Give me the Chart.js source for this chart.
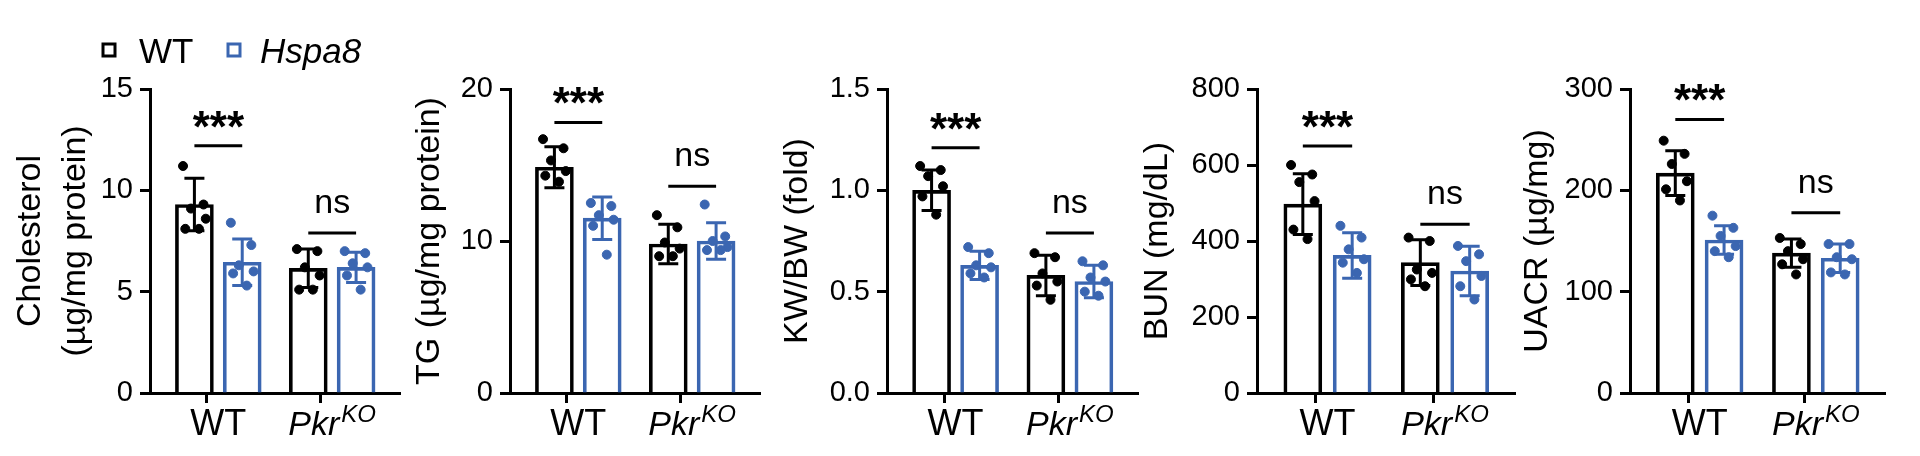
<!DOCTYPE html>
<html>
<head>
<meta charset="utf-8">
<script src="https://cdn.jsdelivr.net/npm/chart.js@4"></script>
<style>
  html, body { margin: 0; padding: 0; background: #fff; }
  #wrap { position: relative; width: 1920px; height: 456px; }
  #wrap canvas { position: absolute; top: 0; }
</style>
</head>
<body>
<div id="wrap"></div>
<script>
/* ===================== DATA ===================== */

const GROUPS = ["WT", "Pkr"];

// Cholesterol
const CHOL_WT_MEAN = [9.3, 6.15];
const CHOL_WT_SD = [1.3, 0.95];
const CHOL_HS_MEAN = [6.45, 6.2];
const CHOL_HS_SD = [1.15, 0.75];
const CHOL_WT_PTS = [[11.2, 9.3, 9.1, 8.6, 8.1, 8.1], [7.1, 7.0, 6.2, 5.8, 5.1, 5.1]];
const CHOL_HS_PTS = [[8.4, 7.3, 6.3, 6.0, 5.9, 5.3], [7.0, 6.9, 6.4, 6.2, 5.8, 5.1]];
const CHOL_TICKS = [0, 5, 10, 15];
const CHOL_SIG = [12.2, 7.9];

// TG
const TG_WT_MEAN = [14.85, 9.8];
const TG_WT_SD = [1.35, 1.3];
const TG_HS_MEAN = [11.5, 10.0];
const TG_HS_SD = [1.4, 1.2];
const TG_WT_PTS = [[16.7, 16.1, 15.3, 14.6, 14.3, 13.9], [11.7, 10.9, 9.9, 9.5, 9.0, 9.0]];
const TG_HS_PTS = [[12.5, 12.3, 11.7, 11.4, 11.0, 9.1], [12.4, 10.3, 10.0, 9.6, 9.4, 9.4]];
const TG_TICKS = [0, 10, 20];
const TG_SIG = [17.8, 13.6];

// KW/BW
const KW_WT_MEAN = [1.0, 0.58];
const KW_WT_SD = [0.1, 0.1];
const KW_HS_MEAN = [0.63, 0.55];
const KW_HS_SD = [0.07, 0.08];
const KW_WT_PTS = [[1.12, 1.1, 1.07, 1.02, 0.97, 0.88], [0.69, 0.67, 0.59, 0.55, 0.53, 0.46]];
const KW_HS_PTS = [[0.72, 0.69, 0.63, 0.62, 0.59, 0.57], [0.65, 0.63, 0.57, 0.55, 0.5, 0.48]];
const KW_TICKS = [0, 0.5, 1.0, 1.5];
const KW_SIG = [1.21, 0.79];

// BUN
const BUN_WT_MEAN = [497, 343];
const BUN_WT_SD = [80, 60];
const BUN_HS_MEAN = [362, 321];
const BUN_HS_SD = [60, 65];
const BUN_WT_PTS = [[600, 575, 555, 505, 430, 405], [409, 400, 325, 316, 299, 281]];
const BUN_HS_PTS = [[440, 409, 378, 352, 343, 316], [387, 365, 347, 308, 281, 246]];
const BUN_TICKS = [0, 200, 400, 600, 800];
const BUN_SIG = [650, 444];

// UACR
const UACR_WT_MEAN = [217, 138];
const UACR_WT_SD = [22, 14];
const UACR_HS_MEAN = [151, 133];
const UACR_HS_SD = [14, 14];
const UACR_WT_PTS = [[249, 236, 226, 209, 201, 190], [153, 147, 140, 132, 127, 117]];
const UACR_HS_PTS = [[175, 163, 155, 145, 140, 134], [147, 147, 134, 132, 119, 117]];
const UACR_TICKS = [0, 100, 200, 300];
const UACR_SIG = [270, 178];

/* ===================== LAYOUT / STYLE ===================== */

const BLACK = "#000000";
const BLUE = "#3b66b1";
const FONT = "'Liberation Sans', Arial, sans-serif";
const JITTER = [-0.1, 0.08, -0.03, 0.1, -0.08, 0.04]; // horizontal spread of dots (x units)
const BAR_OFF = 0.21;

const PANELS = [
  { left: 0, axisX: 150, right: 406, title: ["Cholesterol", "(µg/mg protein)"], pad: 9, ticks: CHOL_TICKS, dec: 0,
    wt: CHOL_WT_MEAN, wtSd: CHOL_WT_SD, hs: CHOL_HS_MEAN, hsSd: CHOL_HS_SD, wtPts: CHOL_WT_PTS, hsPts: CHOL_HS_PTS, sig: CHOL_SIG, legend: true },
  { left: 400, axisX: 510, right: 766, title: "TG (µg/mg protein)", pad: 8, ticks: TG_TICKS, dec: 0,
    wt: TG_WT_MEAN, wtSd: TG_WT_SD, hs: TG_HS_MEAN, hsSd: TG_HS_SD, wtPts: TG_WT_PTS, hsPts: TG_HS_PTS, sig: TG_SIG },
  { left: 760, axisX: 887, right: 1144, title: "KW/BW (fold)", pad: 16, ticks: KW_TICKS, dec: 1,
    wt: KW_WT_MEAN, wtSd: KW_WT_SD, hs: KW_HS_MEAN, hsSd: KW_HS_SD, wtPts: KW_WT_PTS, hsPts: KW_HS_PTS, sig: KW_SIG },
  { left: 1130, axisX: 1257, right: 1521, title: "BUN (mg/dL)", pad: 6, ticks: BUN_TICKS, dec: 0,
    wt: BUN_WT_MEAN, wtSd: BUN_WT_SD, hs: BUN_HS_MEAN, hsSd: BUN_HS_SD, wtPts: BUN_WT_PTS, hsPts: BUN_HS_PTS, sig: BUN_SIG },
  { left: 1510, axisX: 1630, right: 1891, title: "UACR (µg/mg)", pad: 6, ticks: UACR_TICKS, dec: 0,
    wt: UACR_WT_MEAN, wtSd: UACR_WT_SD, hs: UACR_HS_MEAN, hsSd: UACR_HS_SD, wtPts: UACR_WT_PTS, hsPts: UACR_HS_PTS, sig: UACR_SIG },
];

/* ===================== PLUGINS ===================== */

const errorBarPlugin = {
  id: "errorBars",
  afterDatasetDraw(chart, args) {
    const ds = chart.data.datasets[args.index];
    if (!ds.sd) return;
    const { ctx } = chart;
    const y = chart.scales.y;
    ctx.save();
    ctx.strokeStyle = ds.borderColor;
    ctx.lineWidth = 3;
    ds.data.forEach((d, i) => {
      const px = chart.scales.x.getPixelForValue(d.x);
      const top = y.getPixelForValue(d.y + ds.sd[i]);
      const bot = y.getPixelForValue(d.y - ds.sd[i]);
      ctx.beginPath();
      ctx.moveTo(px, top); ctx.lineTo(px, bot);
      ctx.moveTo(px - 10, top); ctx.lineTo(px + 10, top);
      ctx.moveTo(px - 10, bot); ctx.lineTo(px + 10, bot);
      ctx.stroke();
    });
    ctx.restore();
  },
};

const annotPlugin = {
  id: "annot",
  afterDraw(chart) {
    const opts = chart.options.plugins.annot;
    const { ctx } = chart;
    const x = chart.scales.x, y = chart.scales.y;
    ctx.save();
    ctx.fillStyle = BLACK;
    ctx.strokeStyle = BLACK;
    ctx.lineWidth = 3;
    ctx.textAlign = "center";
    ctx.textBaseline = "alphabetic";
    // significance
    opts.sig.forEach((v, g) => {
      const py = y.getPixelForValue(v);
      ctx.beginPath();
      ctx.moveTo(x.getPixelForValue(g - BAR_OFF), py);
      ctx.lineTo(x.getPixelForValue(g + BAR_OFF), py);
      ctx.stroke();
      const cx = x.getPixelForValue(g);
      if (g === 0) {
        ctx.font = "bold 44px " + FONT;
        ctx.fillText("***", cx, py - 4);
      } else {
        ctx.font = "34px " + FONT;
        ctx.fillText("ns", cx, py - 20);
      }
    });
    // category labels
    const base = chart.chartArea.bottom + 42;
    ctx.font = "36px " + FONT;
    ctx.fillText("WT", x.getPixelForValue(0), base);
    const c1 = x.getPixelForValue(1);
    ctx.font = "italic 34px " + FONT;
    const w1 = ctx.measureText("Pkr").width;
    ctx.font = "italic 24px " + FONT;
    const w2 = ctx.measureText("KO").width;
    const start = c1 - (w1 + w2 + 2) / 2;
    ctx.textAlign = "left";
    ctx.font = "italic 34px " + FONT;
    ctx.fillText("Pkr", start, base);
    ctx.font = "italic 24px " + FONT;
    ctx.fillText("KO", start + w1 + 2, base - 13);
    // legend
    if (opts.legend) {
      ctx.lineWidth = 3;
      ctx.font = "35px " + FONT;
      ctx.strokeStyle = BLACK;
      ctx.strokeRect(103, 44, 12, 12);
      ctx.fillStyle = BLACK;
      ctx.fillText("WT", 139, 63);
      ctx.strokeStyle = BLUE;
      ctx.strokeRect(228, 44, 12, 12);
      ctx.font = "italic 35px " + FONT;
      ctx.fillText("Hspa8", 260, 63);
    }
    ctx.restore();
  },
};

/* ===================== BUILD ===================== */

const wrap = document.getElementById("wrap");

function makePanel(p) {
  const canvas = document.createElement("canvas");
  canvas.style.left = p.left + "px";
  canvas.style.width = (p.right - p.left) + "px";
  canvas.style.height = "456px";
  canvas.width = p.right - p.left;
  canvas.height = 456;
  wrap.appendChild(canvas);

  const barSet = (means, sds, color, off) => ({
    type: "bar",
    data: means.map((m, g) => ({ x: g + off, y: m })),
    sd: sds,
    backgroundColor: "rgba(0,0,0,0)",
    borderColor: color,
    borderWidth: 3,
    barThickness: 38,
    grouped: false,
    order: 2,
  });
  const dotSet = (pts, color, off) => ({
    type: "scatter",
    data: pts.flatMap((arr, g) => arr.map((v, k) => ({ x: g + off + JITTER[k], y: v }))),
    backgroundColor: color,
    borderColor: color,
    pointRadius: 4.5,
    order: 0,
    clip: false,
  });

  const yMax = p.ticks[p.ticks.length - 1];
  const isGroup = (v) => Math.abs(v - Math.round(v)) < 1e-6;

  new Chart(canvas, {
    data: {
      datasets: [
        barSet(p.wt, p.wtSd, BLACK, -BAR_OFF),
        barSet(p.hs, p.hsSd, BLUE, BAR_OFF),
        dotSet(p.wtPts, BLACK, -BAR_OFF),
        dotSet(p.hsPts, BLUE, BAR_OFF),
      ],
    },
    options: {
      responsive: false,
      animation: false,
      devicePixelRatio: 1,
      layout: { padding: { top: 89, right: 4, left: 0, bottom: 0 } },
      plugins: {
        legend: { display: false },
        tooltip: { enabled: false },
        annot: { sig: p.sig, legend: !!p.legend },
      },
      scales: {
        x: {
          type: "linear",
          min: -0.6,
          max: 1.6,
          offset: false,
          afterFit: (s) => { s.height = 456 - 393; },
          ticks: { stepSize: 0.2, autoSkip: false, callback: () => "", padding: 0 },
          grid: {
            drawOnChartArea: false,
            tickLength: 10,
            tickWidth: 3,
            tickColor: (c) => (c.tick && isGroup(c.tick.value) ? BLACK : "rgba(0,0,0,0)"),
          },
          border: { color: BLACK, width: 3 },
        },
        y: {
          min: 0,
          max: yMax,
          afterBuildTicks: (s) => { s.ticks = p.ticks.map((v) => ({ value: v })); },
          afterFit: (s) => { s.width = p.axisX - p.left; },
          ticks: {
            color: BLACK,
            padding: 7,
            font: { family: FONT, size: 29 },
            callback: (v) => Number(v).toFixed(p.dec),
          },
          grid: { drawOnChartArea: false, tickLength: 10, tickWidth: 3, color: BLACK },
          border: { color: BLACK, width: 3 },
          title: {
            display: true,
            text: p.title,
            color: BLACK,
            font: { family: FONT, size: 34, lineHeight: 1.3 },
            padding: { top: p.pad, bottom: 0 },
          },
        },
      },
    },
    plugins: [errorBarPlugin, annotPlugin],
  });
}

PANELS.forEach(makePanel);
</script>
</body>
</html>
